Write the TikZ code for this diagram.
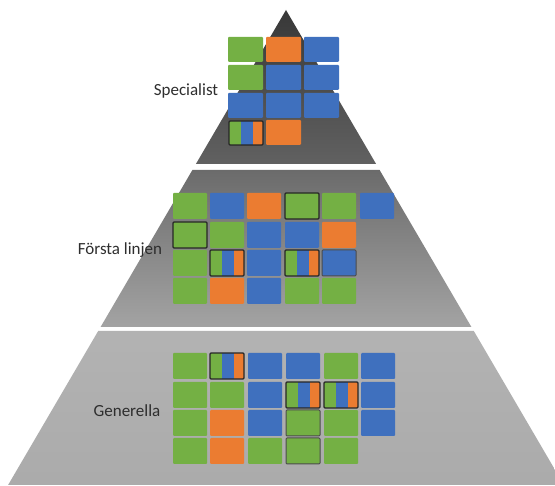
\documentclass[tikz,border=0pt]{standalone}
\usepackage{fontspec}
\setmainfont{Carlito}
\definecolor{tgreen}{HTML}{74B044}
\definecolor{tblue}{HTML}{3F70BE}
\definecolor{torange}{HTML}{EB7C31}
\definecolor{labelgray}{HTML}{2E2E2E}
\tikzset{
  tile/.style={anchor=north west, inner sep=0pt, outer sep=0pt, rounded corners=1pt},
  bordered/.style={draw=black!85, line width=1.4pt},
  lbl/.style={font=\fontsize{17}{20}\selectfont, text=labelgray, inner sep=0pt},
}
% \tl{name}{x}{y}{w}{h}{colour}{extra}
\newcommand\tl[7]{\node[tile, fill=#6, minimum width=#4pt, minimum height=#5pt, #7] (#1) at (#2,#3) {};}
% \stl{name}{x}{y}{w}{h}
\newcommand\stl[5]{%
  \fill[tgreen] (#2,#3) rectangle ++(12,#5);
  \fill[tblue] (#2+12,#3) rectangle ++(12,#5);
  \fill[torange] (#2+24,#3) rectangle ++(#4-24,#5);
  \node[tile, bordered, minimum width=#4pt, minimum height=#5pt] (#1) at (#2,#3) {};}
\begin{document}
\begin{tikzpicture}[x=1pt,y=-1pt]
\useasboundingbox (0,0) rectangle (555,486);
\fill[white] (0,0) rectangle (555,486);
% pyramid sections
\shade[top color=black!78, bottom color=black!62] (286,10) -- (376.1,164) -- (195.9,164) -- cycle;
\shade[top color=black!58, bottom color=black!36] (192.4,170) -- (379.6,170) -- (471.4,327) -- (100.6,327) -- cycle;
\shade[top color=black!30, bottom color=black!33] (98.2,331) -- (473.8,331) -- (563.9,485) -- (8.1,485) -- cycle;
% small white marks in the top section
\draw[white, line width=1.5pt] (318,63.5) -- (340,63.5);
\draw[white, line width=1.5pt] (230,91.5) -- (238,91.5);
\draw[white, line width=1.5pt] (334,91.5) -- (340,91.5);
% ---- Specialist grid
\tl{s11}{228}{37}{35}{25}{tgreen}{}
\tl{s12}{266}{37}{35}{25}{torange}{}
\tl{s13}{304}{37}{35}{25}{tblue}{}
\tl{s21}{228}{65}{35}{25}{tgreen}{}
\tl{s22}{266}{65}{35}{25}{tblue}{}
\tl{s23}{304}{65}{35}{25}{tblue}{}
\tl{s31}{228}{93}{35}{25}{tblue}{}
\tl{s32}{266}{93}{35}{25}{tblue}{}
\tl{s33}{304}{93}{35}{25}{tblue}{}
\stl{s41}{229}{121}{34}{24}
\tl{s42}{266}{120}{35}{25}{torange}{}
% ---- Första linjen grid
\tl{m11}{173}{193}{34}{26}{tgreen}{}
\tl{m12}{210}{193}{34}{26}{tblue}{}
\tl{m13}{247}{193}{34}{26}{torange}{}
\tl{m14}{285}{193}{34}{26}{tgreen}{bordered}
\tl{m15}{322}{193}{34}{26}{tgreen}{}
\tl{m16}{360}{193}{34}{26}{tblue}{}
\tl{m21}{173}{222}{34}{26}{tgreen}{bordered}
\tl{m22}{210}{222}{34}{26}{tgreen}{}
\tl{m23}{247}{222}{34}{26}{tblue}{}
\tl{m24}{285}{222}{34}{26}{tblue}{}
\tl{m25}{322}{222}{34}{26}{torange}{}
\tl{m31}{173}{250}{34}{26}{tgreen}{}
\stl{m32}{210}{250}{34}{26}
\tl{m33}{247}{250}{34}{26}{tblue}{}
\stl{m34}{285}{250}{34}{26}
\tl{m35}{322}{250}{34}{26}{tblue}{draw=black!70, line width=1pt}
\tl{m41}{173}{278}{34}{26}{tgreen}{}
\tl{m42}{210}{278}{34}{26}{torange}{}
\tl{m43}{247}{278}{34}{26}{tblue}{}
\tl{m44}{285}{278}{34}{26}{tgreen}{}
\tl{m45}{322}{278}{34}{26}{tgreen}{}
% ---- Generella grid
\tl{g11}{173}{353}{34}{26}{tgreen}{}
\stl{g12}{210}{353}{34}{26}
\tl{g13}{248}{353}{34}{26}{tblue}{}
\tl{g14}{286}{353}{34}{26}{tblue}{}
\tl{g15}{324}{353}{34}{26}{tgreen}{}
\tl{g16}{361}{353}{34}{26}{tblue}{}
\tl{g21}{173}{382}{34}{26}{tgreen}{}
\tl{g22}{210}{382}{34}{26}{tgreen}{}
\tl{g23}{248}{382}{34}{26}{tblue}{}
\stl{g24}{286}{382}{34}{26}
\stl{g25}{324}{382}{34}{26}
\tl{g26}{361}{382}{34}{26}{tblue}{}
\tl{g31}{173}{410}{34}{26}{tgreen}{}
\tl{g32}{210}{410}{34}{26}{torange}{}
\tl{g33}{248}{410}{34}{26}{tblue}{}
\tl{g34}{286}{410}{34}{26}{tgreen}{draw=black!70, line width=1pt}
\tl{g35}{324}{410}{34}{26}{tgreen}{}
\tl{g36}{361}{410}{34}{26}{tblue}{}
\tl{g41}{173}{438}{34}{26}{tgreen}{}
\tl{g42}{210}{438}{34}{26}{torange}{}
\tl{g43}{248}{438}{34}{26}{tgreen}{}
\tl{g44}{286}{438}{34}{26}{tgreen}{draw=black!70, line width=1pt}
\tl{g45}{324}{438}{34}{26}{tgreen}{}
% ---- labels
\node[lbl] (spec) at (186,91) {Specialist};
\node[lbl] (forsta) at (120,250) {Första linjen};
\node[lbl] (gen) at (127,411) {Generella};
\end{tikzpicture}
\end{document}
